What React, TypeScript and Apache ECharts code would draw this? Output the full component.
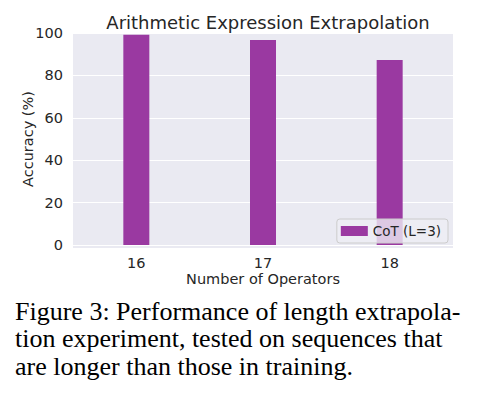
import React, { useEffect, useRef } from "react";
import * as echarts from "echarts";

const categories = ["16", "17", "18"];
const seriesName = "CoT (L=3)";
const accuracy = [99.2, 96.7, 87.3];
const yTicks = [0, 20, 40, 60, 80, 100];
const captionLines = [
  "Figure 3: Performance of length extrapola-",
  "tion experiment, tested on sequences that",
  "are longer than those in training.",
];

const FONT = "DejaVu Sans";
const TEXT = "#262626";

export default function App() {
  const ref = useRef<HTMLDivElement>(null);
  useEffect(() => {
    if (!ref.current) return;
    const chart = echarts.init(ref.current, undefined, { renderer: "svg" });
    chart.setOption({
      animation: false,
      backgroundColor: "#ffffff",
      title: {
        text: "Arithmetic Expression Extrapolation",
        left: 263,
        textAlign: "center",
        top: 8,
        textStyle: { fontFamily: FONT, fontSize: 18, fontWeight: "normal", color: TEXT },
      },
      grid: { left: 73, right: 31, top: 33, bottom: 153, containLabel: false },
      legend: {
        right: 36,
        top: 219,
        orient: "vertical",
        itemWidth: 27,
        itemHeight: 10,
        itemGap: 4,
        padding: [5, 7, 5, 4],
        backgroundColor: "rgba(238,238,244,0.8)",
        borderColor: "#cccccc",
        borderWidth: 1,
        borderRadius: 3,
        textStyle: { fontFamily: FONT, fontSize: 13.5, color: TEXT },
        data: [{ name: seriesName, icon: "rect" }],
      },
      xAxis: {
        type: "category",
        data: categories,
        axisLine: { show: false },
        axisTick: { show: false },
        axisLabel: { fontFamily: FONT, fontSize: 14.5, color: TEXT, margin: 10 },
        name: "Number of Operators",
        nameLocation: "middle",
        nameGap: 26,
        nameMoveOverlap: false,
        nameTextStyle: { fontFamily: FONT, fontSize: 14.5, color: TEXT },
      },
      yAxis: {
        type: "value",
        min: 0,
        max: 100,
        interval: 20,
        axisLine: { show: false },
        axisTick: { show: false },
        axisLabel: {
          fontFamily: FONT,
          fontSize: 14.5,
          color: TEXT,
          margin: 10,
          formatter: (v: number) => (yTicks.includes(v) ? String(v) : ""),
        },
        splitLine: { show: true, lineStyle: { color: "#ffffff", width: 1.2 } },
        name: "Accuracy (%)",
        nameLocation: "middle",
        nameGap: 38,
        nameMoveOverlap: false,
        nameTextStyle: { fontFamily: FONT, fontSize: 14.5, color: TEXT },
      },
      graphic: [
        {
          type: "rect",
          z: -10,
          silent: true,
          shape: { x: 73, y: 33, width: 380, height: 215 },
          style: { fill: "#eaeaf2" },
        },
        ...captionLines.map((line, i) => ({
          type: "text",
          left: 15,
          top: 298 + i * 27.5,
          style: {
            text: line,
            fontFamily: "Liberation Serif",
            fontSize: 26,
            fill: "#000000",
          },
        })),
      ],
      series: [
        {
          name: seriesName,
          type: "bar",
          data: accuracy,
          barWidth: 26,
          itemStyle: { color: "#9a39a1" },
        },
      ],
    });
    return () => chart.dispose();
  }, []);
  return (
    <div
      ref={ref}
      style={{ position: "absolute", left: 0, top: 0, width: 484, height: 398 }}
    />
  );
}
